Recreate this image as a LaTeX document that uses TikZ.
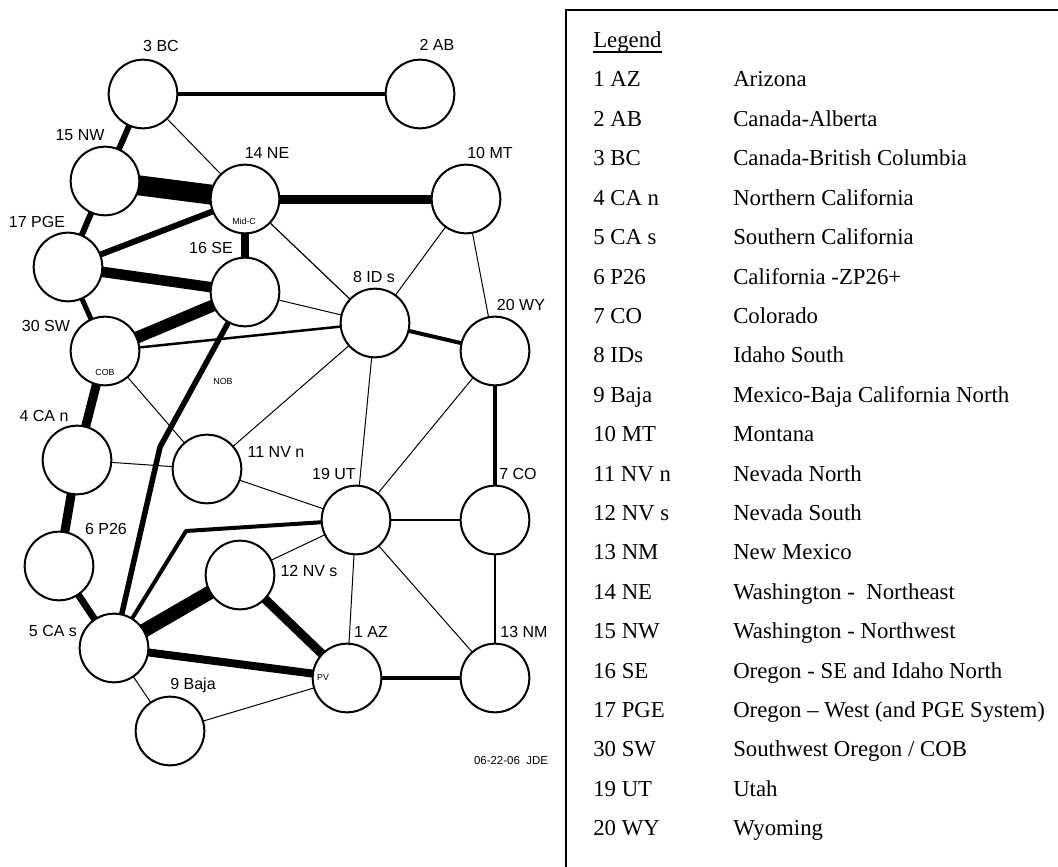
\documentclass[tikz,border=0pt]{standalone}
\usepackage{fontspec}
\setmainfont{Liberation Serif}
\newfontfamily\arialf{Liberation Sans}
\usetikzlibrary{backgrounds}
\begin{document}
\begin{tikzpicture}[x=0.75pt,y=-0.75pt,
  area/.style={circle,draw,line width=1.5pt,fill=white,minimum size=51.5pt,inner sep=0pt},
  lbl/.style={font=\arialf\fontsize{12}{14}\selectfont,anchor=base,inner sep=0pt},
  tiny/.style={font=\arialf\fontsize{6.6}{8}\selectfont,anchor=base,inner sep=0pt},
  wt/.style={line width={#1*0.75pt}},
  leg/.style={font=\fontsize{17.1}{20}\selectfont,anchor=base west,inner sep=0pt}]
\useasboundingbox (0,0) rectangle (1058,867);
% areas
\node[area] (AZ)   at (347,678) {};
\node[area] (AB)   at (420,94)  {};
\node[area] (BC)   at (143,94)  {};
\node[area] (CAn)  at (77,460)  {};
\node[area] (CAs)  at (114,648) {};
\node[area] (P26)  at (59,566)  {};
\node[area] (CO)   at (495,520) {};
\node[area] (IDs)  at (375,323) {};
\node[area] (Baja) at (170,731) {};
\node[area] (MT)   at (466,199) {};
\node[area] (NVn)  at (207,469) {};
\node[area] (NVs)  at (240,575) {};
\node[area] (NM)   at (495,678) {};
\node[area] (NE)   at (245,199) {};
\node[area] (NW)   at (105,181) {};
\node[area] (SE)   at (245,292) {};
\node[area] (PGE)  at (68,267)  {};
\node[area] (SW)   at (105,351) {};
\node[area] (UT)   at (356,520) {};
\node[area] (WY)   at (495,351) {};
\coordinate (bendA) at (160,447);
\coordinate (bendB) at (186,531);
% connectors
\begin{scope}[on background layer]
\draw[wt=4]    (BC.center) -- (AB.center);
\draw[wt=1]    (BC.center) -- (NE.center);
\draw[wt=6]    (BC.center) -- (NW.center);
\draw[wt=20]   (NW.center) -- (NE.center);
\draw[wt=6]    (NW.center) -- (PGE.center);
\draw[wt=6]    (PGE.center) -- (NE.center);
\draw[wt=10.5] (PGE.center) -- (SE.center);
\draw[wt=9]    (NE.center) -- (MT.center);
\draw[wt=8]    (NE.center) -- (SE.center);
\draw[wt=1.2]  (NE.center) -- (IDs.center);
\draw[wt=1]    (MT.center) -- (IDs.center);
\draw[wt=1]    (MT.center) -- (WY.center);
\draw[wt=5]    (PGE.center) -- (SW.center);
\draw[wt=12]   (SE.center) -- (SW.center);
\draw[wt=1]    (SE.center) -- (IDs.center);
\draw[wt=5.5,line join=round] (SE.center) -- (bendA) -- (CAs.center);
\draw[wt=2.5]  (SW.center) -- (IDs.center);
\draw[wt=1]    (SW.center) -- (NVn.center);
\draw[wt=9]    (SW.center) -- (CAn.center);
\draw[wt=4]    (IDs.center) -- (WY.center);
\draw[wt=1]    (IDs.center) -- (NVn.center);
\draw[wt=1]    (IDs.center) -- (UT.center);
\draw[wt=1]    (WY.center) -- (UT.center);
\draw[wt=4]    (WY.center) -- (CO.center);
\draw[wt=1]    (CAn.center) -- (NVn.center);
\draw[wt=9]    (CAn.center) -- (P26.center);
\draw[wt=1]    (NVn.center) -- (UT.center);
\draw[wt=1.5]  (UT.center) -- (CO.center);
\draw[wt=4,line join=round] (UT.center) -- (bendB) -- (CAs.center);
\draw[wt=1]    (UT.center) -- (NVs.center);
\draw[wt=1]    (UT.center) -- (AZ.center);
\draw[wt=1]    (UT.center) -- (NM.center);
\draw[wt=1.5]  (CO.center) -- (NM.center);
\draw[wt=7]    (P26.center) -- (CAs.center);
\draw[wt=14]   (NVs.center) -- (CAs.center);
\draw[wt=9]    (NVs.center) -- (AZ.center);
\draw[wt=8]    (CAs.center) -- (AZ.center);
\draw[wt=1]    (CAs.center) -- (Baja.center);
\draw[wt=1]    (Baja.center) -- (AZ.center);
\draw[wt=4.5]  (AZ.center) -- (NM.center);
\end{scope}
% area labels
\node[lbl] (tBC)   at (161,52)  {3 BC};
\node[lbl] (tAB)   at (437,51)  {2 AB};
\node[lbl] (tNW)   at (80,141)  {15 NW};
\node[lbl] (tNE)   at (267,159) {14 NE};
\node[lbl] (tMT)   at (490,159) {10 MT};
\node[lbl] (tPGE)  at (37,228)  {17 PGE};
\node[lbl] (tSE)   at (211,253) {16 SE};
\node[lbl] (tIDs)  at (374,282) {8 ID s};
\node[lbl] (tWY)   at (521,310) {20 WY};
\node[lbl] (tSW)   at (46,331)  {30 SW};
\node[lbl] (tCAn)  at (44,421)  {4 CA n};
\node[lbl] (tNVn)  at (276,457) {11 NV n};
\node[lbl] (tUT)   at (334,479) {19 UT};
\node[lbl] (tCO)   at (518,479) {7 CO};
\node[lbl] (tP26)  at (106,534) {6 P26};
\node[lbl] (tNVs)  at (309,576) {12 NV s};
\node[lbl] (tCAs)  at (53,636)  {5 CA s};
\node[lbl] (tAZ)   at (371,637) {1 AZ};
\node[lbl] (tNM)   at (524,637) {13 NM};
\node[lbl] (tBaja) at (193,689) {9 Baja};
\node[tiny] (tMid) at (244,224) {Mid-C};
\node[tiny] (tCOB) at (105,375) {COB};
\node[tiny] (tNOB) at (223,384) {NOB};
\node[tiny] (tPV)  at (323,680) {PV};
\node[font=\arialf\fontsize{8.6}{10}\selectfont,anchor=base,inner sep=0pt] (date) at (511,764) {06-22-06\ \ JDE};
% legend
\draw[line width=1.5pt] (566,10) rectangle (1080,890);
\node[leg] (lg) at (593,48) {Legend};
\draw[line width=1pt] ([yshift=-3pt]lg.base west) -- ([yshift=-3pt]lg.base east);
\foreach \c/\n [count=\i] in {1 AZ/Arizona, 2 AB/Canada-Alberta, 3 BC/Canada-British Columbia,
  4 CA n/Northern California, 5 CA s/Southern California, 6 P26/California -ZP26+,
  7 CO/Colorado, 8 IDs/Idaho South, 9 Baja/Mexico-Baja California North, 10 MT/Montana,
  11 NV n/Nevada North, 12 NV s/Nevada South, 13 NM/New Mexico,
  14 NE/{Washington -\ \ Northeast}, 15 NW/Washington - Northwest,
  16 SE/Oregon - SE and Idaho North, 17 PGE/{Oregon – West (and PGE System)},
  30 SW/{Southwest Oregon / COB}, 19 UT/Utah, 20 WY/Wyoming} {
  \node[leg] (k\i) at (593,{87+(\i-1)*39.4}) {\c};
  \node[leg] (n\i) at (733,{87+(\i-1)*39.4}) {\n};
}
\end{tikzpicture}
\end{document}
